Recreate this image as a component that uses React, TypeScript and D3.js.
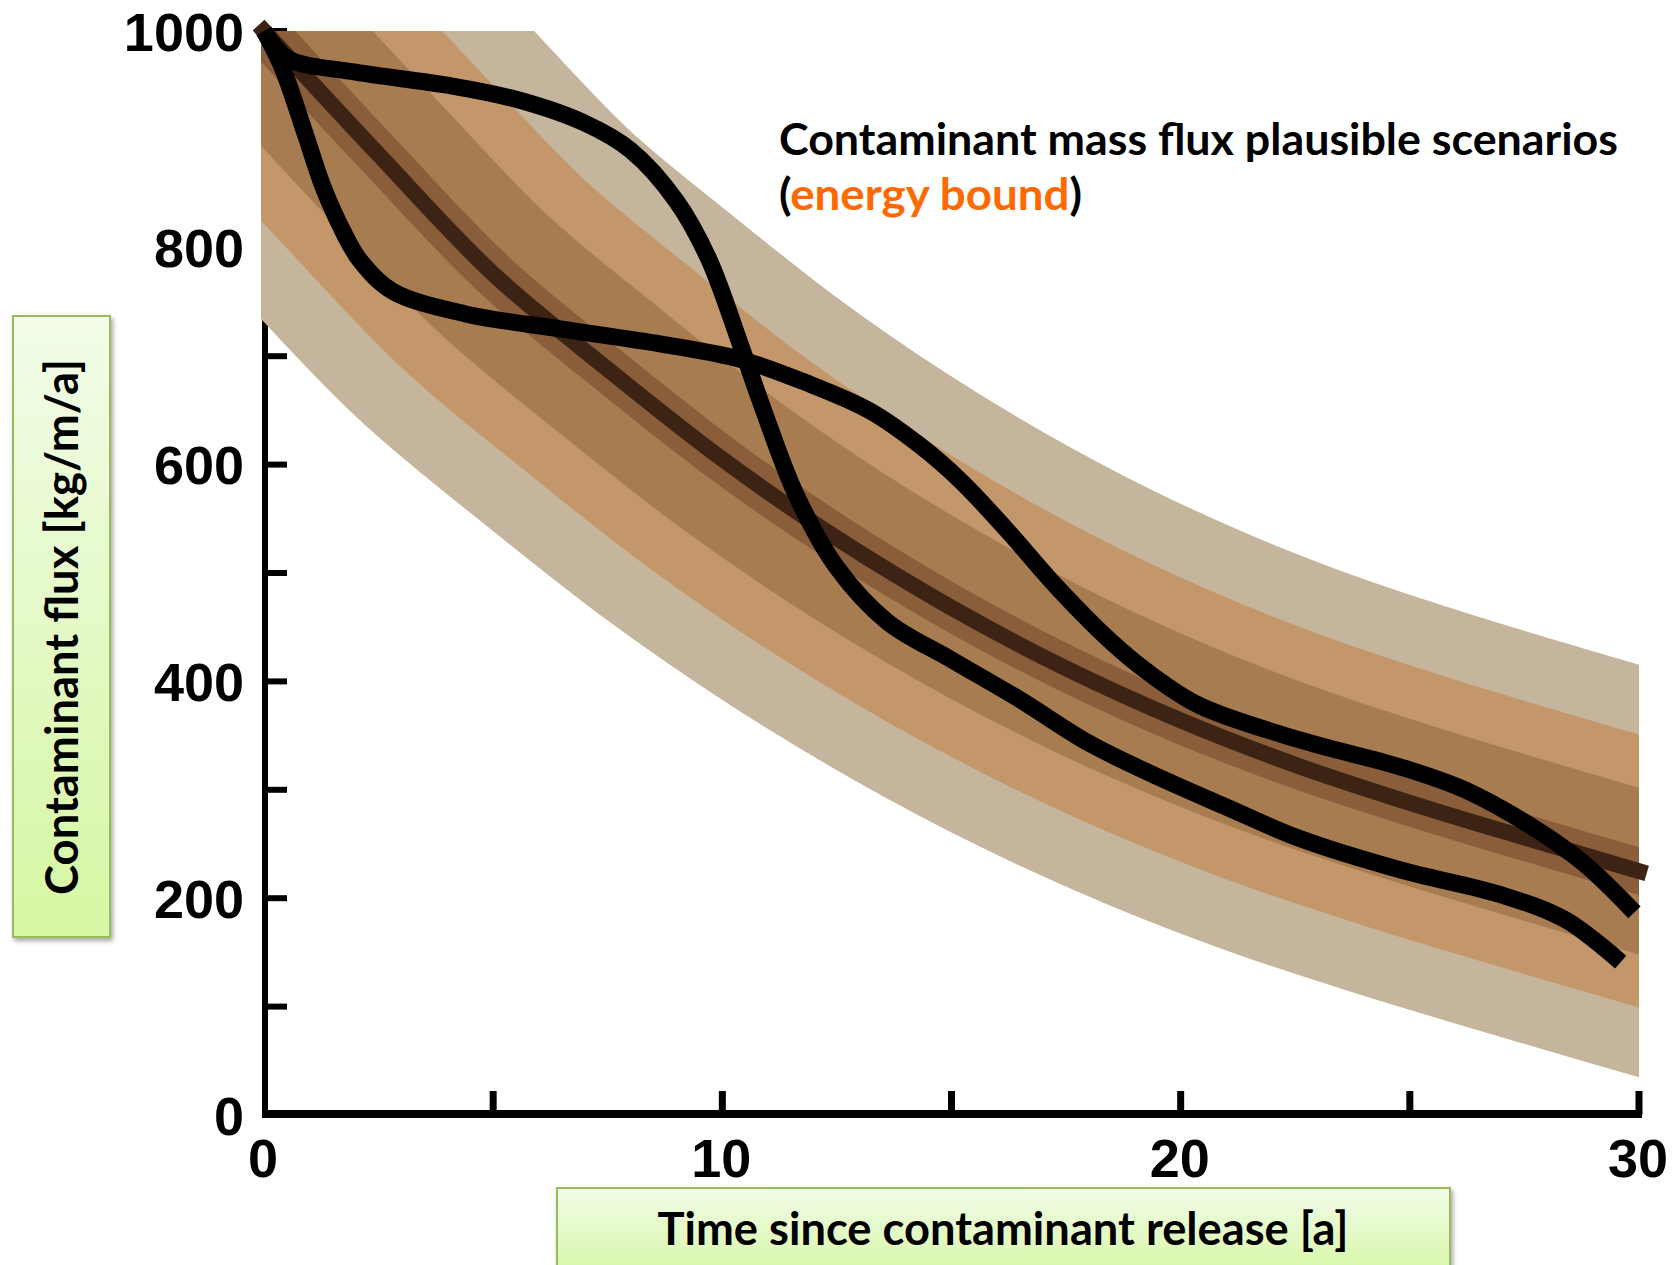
import React from 'react';
import * as d3 from 'd3';

// Central (most likely) flux curve
const T_CENTER = [0, 2.5, 5, 7.5, 10, 12.5, 15, 17.5, 20, 22.5, 25, 27.5, 30];
const V_CENTER = [1000, 886, 776, 688, 605, 532, 468, 412, 364, 323, 288, 256, 225];

// Scenario that starts high, then drops steeply after ~9 a
const T_SCEN_A = [0, 0.5, 2, 4, 5.5, 7, 8, 9, 9.7, 10.4, 10.9, 11.6, 12.5, 13.6, 15, 16.5, 18, 19.5, 21, 22.6, 24.8, 27, 28.4, 29.6];
const V_SCEN_A = [1000, 975, 962, 950, 937, 915, 890, 843, 790, 710, 650, 573, 505, 455, 420, 383, 343, 312, 284, 255, 226, 203, 180, 141];

// Scenario that drops fast first, then stays high
const T_SCEN_B = [0, 0.4, 0.9, 1.3, 1.75, 2.1, 2.8, 4.4, 6.5, 8.7, 10.4, 11.8, 13.2, 14.3, 15.2, 16.2, 17.3, 18.5, 19.3, 20.4, 22.6, 24.8, 26.2, 27.7, 28.8, 29.9];
const V_SCEN_B = [1000, 966, 905, 855, 813, 788, 760, 739, 725, 711, 697, 676, 650, 618, 585, 540, 487, 436, 408, 378, 346, 321, 300, 265, 232, 187];

// Uncertainty bands (drawn as widening envelopes around the central curve)
const BAND_COLORS = ['#c4b59c', '#c4976b', '#a87c51', '#8a5e3b'];
const BAND_WIDTHS = [396, 262, 160, 46];

const Y_TICKS = [100, 200, 300, 400, 500, 600, 700, 800, 900, 1000];
const Y_LABELS = [0, 200, 400, 600, 800, 1000];
const X_TICKS = [5, 10, 15, 20, 25, 30];
const X_LABELS = [0, 10, 20, 30];

const X_TITLE = 'Time since contaminant release [a]';
const Y_TITLE = 'Contaminant flux [kg/m/a]';
const NOTE_LINE1 = 'Contaminant mass flux plausible scenarios';
const NOTE_LINE2 = 'energy bound';

export default function App() {
  const W = 1680;
  const H = 1265;
  const x = d3.scaleLinear().domain([0, 30]).range([264, 1639]);
  const y = d3.scaleLinear().domain([0, 1000]).range([1115, 31]);

  const line = d3
    .line<[number, number]>()
    .x((d) => x(d[0]))
    .y((d) => y(d[1]))
    .curve(d3.curveCatmullRom.alpha(0.5));

  const center: [number, number][] = T_CENTER.map((t, i) => [t, V_CENTER[i]]);
  const scenA: [number, number][] = T_SCEN_A.map((t, i) => [t, V_SCEN_A[i]]);
  const scenB: [number, number][] = T_SCEN_B.map((t, i) => [t, V_SCEN_B[i]]);

  const centerPath = line(center) || '';
  const labelFont = '"Liberation Sans", Arial, sans-serif';
  const titleFont = 'Lato, "Open Sans", sans-serif';

  return (
    <svg
      width={W}
      height={H}
      viewBox={`0 0 ${W} ${H}`}
      style={{ position: 'absolute', left: 0, top: 0, background: '#fff' }}
    >
      <defs>
        <clipPath id="plotClip">
          <rect x={x(0) - 3} y={y(1000)} width={x(30) - x(0) + 3} height={y(0) - y(1000)} />
        </clipPath>
        <linearGradient id="boxGrad" x1="0" y1="0" x2="0" y2="1">
          <stop offset="0%" stopColor="#f2fce9" />
          <stop offset="100%" stopColor="#d6f7a3" />
        </linearGradient>
        <filter id="shadow" x="-20%" y="-20%" width="140%" height="140%">
          <feDropShadow dx="2" dy="3" stdDeviation="2.5" floodColor="#000" floodOpacity="0.35" />
        </filter>
      </defs>

      {/* axes (drawn below the bands) */}
      <line x1={x(0) + 1} x2={x(0) + 1} y1={y(1000)} y2={y(0) + 3} stroke="#000" strokeWidth={6} />
      {Y_TICKS.map((v) => (
        <line key={'yt' + v} x1={x(0)} x2={x(0) + 23} y1={y(v)} y2={y(v)} stroke="#000" strokeWidth={6} />
      ))}
      <line x1={x(0) - 2} x2={x(30) + 3} y1={y(0) - 1} y2={y(0) - 1} stroke="#000" strokeWidth={8} />
      {X_TICKS.map((t) => (
        <line key={'xt' + t} x1={x(t)} x2={x(t)} y1={y(0)} y2={y(0) - 24} stroke="#000" strokeWidth={7} />
      ))}

      {/* bands */}
      <g clipPath="url(#plotClip)">
        {BAND_WIDTHS.map((w, i) => (
          <path
            key={'band' + i}
            d={centerPath}
            fill="none"
            stroke={BAND_COLORS[i]}
            strokeWidth={w}
            strokeLinecap="square"
          />
        ))}
      </g>

      {/* central curve */}
      <path d={centerPath} fill="none" stroke="#3d2314" strokeWidth={16} strokeLinecap="square" />

      {/* scenarios */}
      <path d={line(scenB) || ''} fill="none" stroke="#000" strokeWidth={17} strokeLinejoin="round" />
      <path d={line(scenA) || ''} fill="none" stroke="#000" strokeWidth={17} strokeLinejoin="round" />

      {/* tick labels */}
      {Y_LABELS.map((v) => (
        <text
          key={'yl' + v}
          x={244}
          y={y(v) + 19.5}
          textAnchor="end"
          fontFamily={labelFont}
          fontWeight="bold"
          fontSize={54}
          fill="#000"
        >
          {v}
        </text>
      ))}
      {X_LABELS.map((t) => (
        <text
          key={'xl' + t}
          x={x(t) - 1}
          y={1177}
          textAnchor="middle"
          fontFamily={labelFont}
          fontWeight="bold"
          fontSize={54}
          fill="#000"
        >
          {t}
        </text>
      ))}

      {/* annotation */}
      <text
        x={779}
        y={155}
        fontFamily={titleFont}
        fontWeight="bold"
        fontSize={44}
        fill="#000"
        textLength={839}
        lengthAdjust="spacingAndGlyphs"
      >
        {NOTE_LINE1}
      </text>
      <text
        x={779}
        y={210}
        fontFamily={titleFont}
        fontWeight="bold"
        fontSize={44}
        fill="#000"
        textLength={303}
        lengthAdjust="spacingAndGlyphs"
      >
        (<tspan fill="#ff6a00">{NOTE_LINE2}</tspan>)
      </text>

      {/* y title box */}
      <rect x={13} y={316} width={97} height={621} fill="url(#boxGrad)" stroke="#9bbb59" strokeWidth={2} filter="url(#shadow)" />
      <text
        transform={`translate(78, 627) rotate(-90)`}
        textAnchor="middle"
        fontFamily={titleFont}
        fontWeight="bold"
        fontSize={45}
        fill="#000"
        textLength={536}
        lengthAdjust="spacingAndGlyphs"
      >
        {Y_TITLE}
      </text>

      {/* x title box */}
      <rect x={557} y={1188} width={893} height={90} fill="url(#boxGrad)" stroke="#9bbb59" strokeWidth={2} filter="url(#shadow)" />
      <text
        x={1003}
        y={1245}
        textAnchor="middle"
        fontFamily={titleFont}
        fontWeight="bold"
        fontSize={45}
        fill="#000"
        textLength={691}
        lengthAdjust="spacingAndGlyphs"
      >
        {X_TITLE}
      </text>
    </svg>
  );
}
